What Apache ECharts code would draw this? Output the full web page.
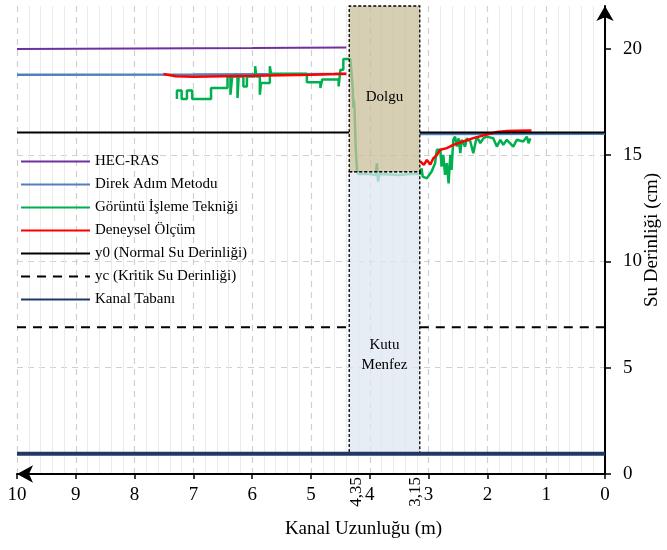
<!DOCTYPE html>
<html>
<head>
<meta charset="utf-8">
<script src="https://cdn.jsdelivr.net/npm/echarts@6/dist/echarts.min.js"></script>
<style>html,body{margin:0;padding:0;background:#fff}#c{width:667px;height:550px}</style>
</head>
<body>
<div id="c"></div>
<script>
// ---- data ----
const seriesNames = ['HEC-RAS', 'Direk Adım Metodu', 'Görüntü İşleme Tekniği', 'Deneysel Ölçüm',
  'y0 (Normal Su Derinliği)', 'yc (Kritik Su Derinliği)', 'Kanal Tabanı'];
const hecRas = [[10, 19.98], [8, 20.0], [6, 20.02], [4.4, 20.05]];
const direkAdim = [[10, 18.77], [7, 18.78], [4.4, 18.8], [3.75, '-'], [3.15, 15.98], [0, 15.99]];
const goruntu = [
  [7.28,17.63],[7.28,18.03],[7.20,18.03],[7.20,17.63],[7.11,17.63],[7.11,18.03],[7.02,18.03],[7.02,17.63],
  [6.70,17.63],[6.70,18.15],[6.42,18.15],[6.42,18.69],[6.37,18.69],[6.37,17.83],[6.34,17.83],[6.34,18.69],
  [6.25,18.69],[6.25,17.67],[6.23,17.67],[6.23,18.69],[6.15,18.69],[6.15,18.22],[6.09,18.22],[6.09,18.69],
  [5.95,18.69],[5.95,19.17],[5.93,19.17],[5.93,18.69],[5.87,18.69],[5.87,17.83],[5.85,17.83],[5.85,18.38],
  [5.70,18.38],[5.70,19.17],[5.68,19.17],[5.68,18.81],[5.07,18.81],[5.07,18.41],[4.84,18.41],[4.84,18.15],
  [4.81,18.15],[4.81,18.54],[4.53,18.54],[4.53,18.22],[4.50,18.22],[4.50,19.0],[4.45,19.0],[4.45,19.51],
  [4.33,19.51],[4.31,19.5],[4.29,18.13],[4.28,17.19],[4.27,17.6],[4.26,17.19],[4.25,16.24],[4.24,15.3],
  [4.22,14.35],[4.20,14.1],[4.00,14.1],[3.90,14.05],[3.88,14.6],[3.86,13.75],[3.84,14.1],[3.50,14.05],
  [3.30,14.1],[3.15,14.1],
  [3.12,14.37],[3.10,13.98],[3.03,13.90],[2.95,14.21],[2.89,14.61],[2.86,15.24],[2.80,15.24],[2.78,14.45],
  [2.75,15.0],[2.72,14.06],[2.69,14.61],[2.66,13.66],[2.63,15.0],[2.61,14.29],[2.58,15.71],[2.55,15.86],
  [2.52,15.39],[2.49,15.78],[2.46,15.08],[2.44,15.71],[2.38,15.39],[2.35,15.78],[2.29,15.63],[2.24,15.08],
  [2.18,15.86],[2.12,15.55],[2.07,15.78],[2.01,15.86],[1.90,15.78],[1.84,15.39],[1.78,15.71],[1.73,15.47],
  [1.67,15.71],[1.56,15.39],[1.50,15.71],[1.39,15.63],[1.33,15.86],[1.30,15.55],[1.27,15.78]
];
const deneysel = [
  [7.51,18.8],[7.3,18.7],[7.0,18.68],[6.5,18.7],[6.0,18.72],[5.5,18.75],[5.0,18.77],[4.6,18.8],[4.4,18.82],
  [3.75,'-'],
  [3.14,14.69],[3.08,14.53],[3.03,14.76],[2.97,14.55],[2.92,14.84],[2.86,15.0],[2.80,15.24],[2.69,15.32],
  [2.58,15.47],[2.41,15.63],[2.24,15.79],[2.01,15.96],[1.84,16.08],[1.67,16.12],[1.50,16.14],[1.25,16.15]
];
const y0Line = [[10, 16.05], [4.35, 16.05], [3.75, '-'], [3.15, 16.05], [0, 16.05]];
const ycLine = [[10, 6.9], [4.35, 6.9], [3.75, '-'], [3.15, 6.9], [0, 6.9]];
const kanalTabani = [[10, 0.95], [0, 0.95]];
const culvertX = [4.35, 3.15];
const culvertTop = 14.2;
const fillTop = 22;
const boxLabels = ['Dolgu', 'Kutu\nMenfez'];
const extraXLabels = [4.35, 3.15];
const yTickValues = [0, 5, 10, 15, 20];

// ---- chart ----
const FONT = 'Liberation Serif';
const chart = echarts.init(document.getElementById('c'));
const lineBase = (name, data, color, width, extra) => Object.assign({
  name, type: 'line', data, symbol: 'none', showSymbol: false, z: 2,
  lineStyle: { color, width }, itemStyle: { color }, animation: false
}, extra || {});
const fmt = v => String(v).replace('.', ',');
const extraAxis = (value, formatter, lh) => ({
  type: 'value', min: 0, max: 10, inverse: true, position: 'bottom', gridIndex: 0,
  axisLine: { show: false }, axisTick: { show: false }, splitLine: { show: false },
  axisLabel: { customValues: [value], rotate: 90, margin: 3, fontFamily: FONT, fontSize: 17, color: '#000',
    lineHeight: lh, formatter }
});

chart.setOption({
  animation: false,
  grid: { left: 17, right: 62, top: 6, bottom: 76, outerBoundsMode: 'none', containLabel: false },
  legend: {
    data: seriesNames, orient: 'vertical', left: 15, top: 148,
    itemWidth: 69, itemHeight: 14, itemGap: 6,
    itemStyle: { opacity: 0 },
    textStyle: { fontFamily: FONT, fontSize: 15, color: '#000', lineHeight: 17 }
  },
  xAxis: [{
    type: 'value', min: 0, max: 10, interval: 1, inverse: true, position: 'bottom',
    name: 'Kanal Uzunluğu (m)', nameLocation: 'middle', nameGap: 46, nameMoveOverlap: false,
    nameTextStyle: { fontFamily: FONT, fontSize: 19, color: '#000', padding: [0, 0, 0, 105] },
    axisLine: { show: true, onZero: false, lineStyle: { color: '#000', width: 2 },
      symbol: ['arrow', 'none'], symbolSize: [13, 16], symbolOffset: [0, 0] },
    axisTick: { show: true, length: 5, lineStyle: { color: '#000', width: 1.5 } },
    axisLabel: { fontFamily: FONT, fontSize: 19, color: '#000', margin: 12 },
    splitLine: { show: true, lineStyle: { color: '#d0d0d0', width: 1.2, type: [6, 5] } },
    minorTick: { show: false, splitNumber: 5 },
    minorSplitLine: { show: true, lineStyle: { color: '#ebebeb', width: 1 } }
  },
  extraAxis(extraXLabels[0], v => '\n' + fmt(v), 14),
  extraAxis(extraXLabels[1], v => fmt(v) + '\n', 8)],
  yAxis: {
    type: 'value', min: 0, max: 22, interval: 5, position: 'right',
    name: 'Su Derinliği (cm)', nameLocation: 'middle', nameGap: 38, nameRotate: 90, nameMoveOverlap: false,
    nameTextStyle: { fontFamily: FONT, fontSize: 19, color: '#000' },
    axisLine: { show: true, onZero: false, lineStyle: { color: '#000', width: 2 },
      symbol: ['none', 'arrow'], symbolSize: [13, 15], symbolOffset: [0, 0] },
    axisTick: { show: true, length: 6, customValues: yTickValues, lineStyle: { color: '#000', width: 1.5 } },
    axisLabel: { fontFamily: FONT, fontSize: 19, color: '#000', margin: 18, customValues: yTickValues },
    splitLine: { show: true, showMaxLine: false, showMinLine: false,
      lineStyle: { color: '#d0d0d0', width: 1.2, type: [6, 5] } }
  },
  series: [
    lineBase(seriesNames[0], hecRas, '#7030a0', 2),
    lineBase(seriesNames[1], direkAdim, '#4f81bd', 2.5),
    lineBase(seriesNames[2], goruntu, '#00b050', 2.5),
    lineBase(seriesNames[3], deneysel, '#ff0000', 2.5),
    lineBase(seriesNames[4], y0Line, '#000000', 2),
    lineBase(seriesNames[5], ycLine, '#000000', 2, { lineStyle: { color: '#000', width: 2, type: [9, 7] } }),
    lineBase(seriesNames[6], kanalTabani, '#1f3864', 4, { z: 12 }),
    {
      name: 'box', type: 'line', data: [], z: 10, silent: true, animation: false,
      markArea: {
        silent: true, z: 10,
        data: [
          [{ name: boxLabels[0], xAxis: culvertX[0], yAxis: culvertTop,
             itemStyle: { color: 'rgba(200,191,155,0.75)' },
             label: { offset: [0, 8] } },
           { xAxis: culvertX[1], yAxis: fillTop }],
          [{ name: boxLabels[1], xAxis: culvertX[0], yAxis: kanalTabani[0][1],
             itemStyle: { color: 'rgba(221,231,242,0.75)' },
             label: { offset: [0, 42] } },
           { xAxis: culvertX[1], yAxis: culvertTop }]
        ],
        itemStyle: { borderColor: '#000', borderWidth: 1.3, borderType: [3, 2] },
        label: { show: true, position: 'inside', fontFamily: FONT, fontSize: 15, color: '#000', lineHeight: 20 }
      }
    }
  ]
});
</script>
</body>
</html>
